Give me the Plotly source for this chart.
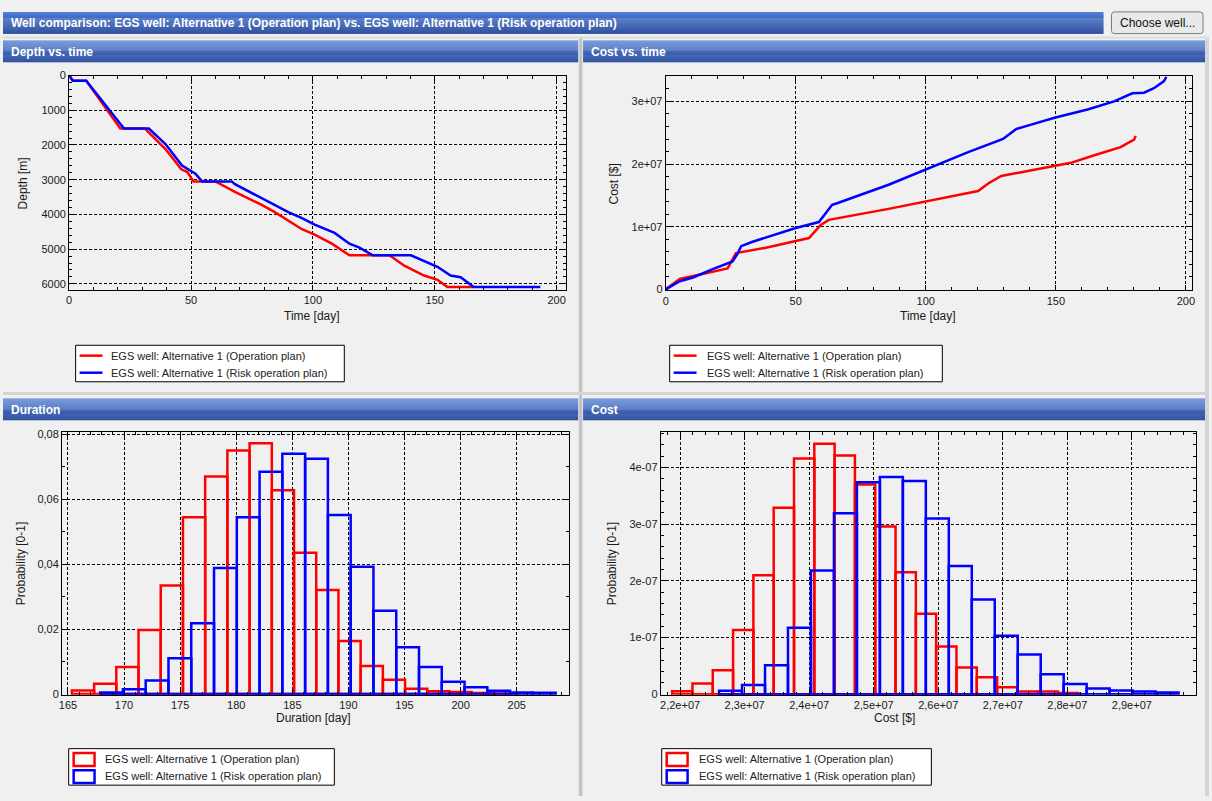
import plotly.graph_objects as go

W, H = 1212, 801

# ---------------- data ----------------
series_names = [
    "EGS well: Alternative 1 (Operation plan)",
    "EGS well: Alternative 1 (Risk operation plan)",
]

# Depth vs. time  (time in days, depth in metres)
depth_op_t = [0, 1.5, 7, 21, 31, 39.5, 46, 48.5, 51, 60, 68, 73.6, 79, 84.4, 90, 95.3,
              100.7, 107.6, 115, 124.6, 131.4, 137.5, 145.6, 151.1, 155.2, 166]
depth_op_m = [0, 150, 150, 1525, 1525, 2116, 2700, 2780, 3050, 3050, 3350, 3540, 3727,
              3935, 4180, 4420, 4580, 4835, 5176, 5176, 5176, 5477, 5761, 5885, 6093, 6093]
depth_risk_t = [0, 1.5, 7, 22.5, 32.7, 39.5, 46.3, 49.7, 51.8, 54.5, 66.7, 68, 77.6, 89.9,
                95.3, 100.7, 108.9, 115, 119.1, 124.6, 140.2, 145.6, 151.1, 156.5, 160.6,
                166, 193.3]
depth_risk_m = [0, 150, 150, 1525, 1525, 1974, 2590, 2733, 2827, 3050, 3050, 3130, 3490,
                3935, 4100, 4295, 4532, 4844, 4957, 5176, 5176, 5337, 5507, 5761, 5808,
                6093, 6093]

# Cost vs. time  (time in days, cost in $)
cost_op_t = [0, 5.4, 23.8, 27, 38.5, 50, 55.1, 59.6, 62.7, 85.7, 99.7, 108, 120.1, 124,
             129, 136.7, 149.5, 155.8, 164.8, 169.9, 174.9, 180.1, 180.7]
cost_op_usd = [0, 1.67e6, 3.35e6, 5.8e6, 6.66e6, 7.8e6, 8.2e6, 10.3e6, 11.1e6, 12.85e6,
               14.0e6, 14.8e6, 15.7e6, 16.9e6, 18.1e6, 18.7e6, 19.7e6, 20.2e6, 21.4e6,
               22.0e6, 22.7e6, 23.9e6, 24.5e6]
cost_risk_t = [0, 5.4, 10.5, 18.1, 25.7, 27.5, 29, 33.4, 50, 58.9, 64, 65.9, 85.7, 99.7,
               116.3, 129.7, 134.8, 140.5, 149.5, 162.2, 172.4, 179.4, 183.9, 187.7,
               191.5, 192.5]
cost_risk_usd = [0, 1.3e6, 1.9e6, 3.25e6, 4.45e6, 5.6e6, 6.9e6, 7.6e6, 9.8e6, 10.75e6,
                 13.5e6, 13.75e6, 16.7e6, 19.1e6, 21.9e6, 24.0e6, 25.6e6, 26.3e6, 27.4e6,
                 28.7e6, 30.0e6, 31.3e6, 31.4e6, 32.1e6, 33.2e6, 33.9e6]

# Duration histograms (first bin edge, bin width, probability per bin)
dur_op_start, dur_op_width = 165.35, 1.98
dur_op_prob = [0.0011, 0.0032, 0.0083, 0.0197, 0.0334, 0.0544, 0.0669, 0.0749, 0.0772,
               0.0627, 0.0435, 0.0320, 0.0163, 0.0086, 0.0044, 0.0016, 0.0009, 0.0006,
               0.0003, 0.0002]
dur_risk_start, dur_risk_width = 167.87, 2.03
dur_risk_prob = [0.0005, 0.0015, 0.0042, 0.0110, 0.0218, 0.0388, 0.0544, 0.0684, 0.0739,
                 0.0724, 0.0551, 0.0392, 0.0256, 0.0144, 0.0083, 0.0038, 0.0021, 0.0010,
                 0.0005, 0.0004]

# Cost histograms
cost_op_start, cost_op_width = 2.1877e7, 0.3147e6
cost_op_prob = [0.05e-7, 0.19e-7, 0.42e-7, 1.13e-7, 2.10e-7, 3.29e-7, 4.16e-7, 4.42e-7,
                4.21e-7, 3.70e-7, 2.96e-7, 2.15e-7, 1.42e-7, 0.84e-7, 0.47e-7, 0.30e-7,
                0.12e-7, 0.047e-7, 0.045e-7, 0.02e-7]
cost_risk_start, cost_risk_width = 2.2604e7, 0.356e6
cost_risk_prob = [0.06e-7, 0.16e-7, 0.51e-7, 1.17e-7, 2.18e-7, 3.19e-7, 3.74e-7, 3.83e-7,
                  3.76e-7, 3.10e-7, 2.26e-7, 1.67e-7, 1.03e-7, 0.70e-7, 0.35e-7, 0.18e-7,
                  0.10e-7, 0.064e-7, 0.047e-7, 0.03e-7]

# Tick values / labels
time_ticks = [0, 50, 100, 150, 200]
depth_ticks = [0, 1000, 2000, 3000, 4000, 5000, 6000]
cost_time_ticks = [0, 1e7, 2e7, 3e7]
cost_time_labels = ["0", "1e+07", "2e+07", "3e+07"]
dur_ticks = [165, 170, 175, 180, 185, 190, 195, 200, 205]
dur_prob_ticks = [0, 0.02, 0.04, 0.06, 0.08]
dur_prob_labels = ["0", "0,02", "0,04", "0,06", "0,08"]
cost_ticks = [2.2e7, 2.3e7, 2.4e7, 2.5e7, 2.6e7, 2.7e7, 2.8e7, 2.9e7]
cost_labels = ["2,2e+07", "2,3e+07", "2,4e+07", "2,5e+07", "2,6e+07", "2,7e+07",
               "2,8e+07", "2,9e+07"]
cost_prob_ticks = [0, 1e-7, 2e-7, 3e-7, 4e-7]
cost_prob_labels = ["0", "1e-07", "2e-07", "3e-07", "4e-07"]

main_title = ("Well comparison: EGS well: Alternative 1 (Operation plan) vs. "
              "EGS well: Alternative 1 (Risk operation plan)")
panel_titles = ["Depth vs. time", "Cost vs. time", "Duration", "Cost"]

# ---------------- styling helpers ----------------
RED, BLUE = "#ff0000", "#0000ff"
SERIES_COLORS = [RED, BLUE]
FONT = "Liberation Sans"
BG = "#f0f0f0"


def fx(x):
    return x / W


def fy(y):
    return 1 - y / H


def centers(start, width, n):
    return [start + width * (i + 0.5) for i in range(n)]


fig = go.Figure()

# line charts
for (t, v, col, nm, xa, ya) in [
    (depth_op_t, depth_op_m, RED, series_names[0], "x", "y"),
    (depth_risk_t, depth_risk_m, BLUE, series_names[1], "x", "y"),
    (cost_op_t, cost_op_usd, RED, series_names[0], "x2", "y2"),
    (cost_risk_t, cost_risk_usd, BLUE, series_names[1], "x2", "y2"),
]:
    fig.add_trace(go.Scatter(x=t, y=v, mode="lines", name=nm,
                             line=dict(color=col, width=2.5),
                             xaxis=xa, yaxis=ya, showlegend=False))

# histograms (outlined bars)
for (start, width, prob, col, nm, xa, ya) in [
    (dur_op_start, dur_op_width, dur_op_prob, RED, series_names[0], "x3", "y3"),
    (dur_risk_start, dur_risk_width, dur_risk_prob, BLUE, series_names[1], "x3", "y3"),
    (cost_op_start, cost_op_width, cost_op_prob, RED, series_names[0], "x4", "y4"),
    (cost_risk_start, cost_risk_width, cost_risk_prob, BLUE, series_names[1], "x4", "y4"),
]:
    fig.add_trace(go.Bar(x=centers(start, width, len(prob)), y=prob, width=width,
                         name=nm, xaxis=xa, yaxis=ya, showlegend=False,
                         marker=dict(color="rgba(0,0,0,0)",
                                     line=dict(color=col, width=2.5))))


def axis(domain, rng, anchor, minor_dtick, tickvals, ticktext=None):
    d = dict(
        domain=domain, range=rng, anchor=anchor,
        tickmode="array", tickvals=tickvals,
        showline=True, linecolor="black", linewidth=1, mirror="allticks",
        ticks="inside", ticklen=5, tickcolor="black", tickwidth=1,
        showgrid=True, gridcolor="black", gridwidth=1, griddash="3px,2px",
        zeroline=False, fixedrange=True,
        tickfont=dict(family=FONT, size=11, color="#1a1a1a"),
        minor=dict(ticks="inside", ticklen=3, tickcolor="black", dtick=minor_dtick,
                   tick0=0, showgrid=False),
    )
    if ticktext is not None:
        d["ticktext"] = ticktext
    return d


fig.update_layout(
    width=W, height=H, margin=dict(l=0, r=0, t=0, b=0),
    paper_bgcolor=BG, plot_bgcolor=BG, barmode="overlay", showlegend=False,
    font=dict(family=FONT, size=11, color="#1a1a1a"),
    xaxis=axis([fx(66.5), fx(565.7)], [0, 203.8], "y", 10, time_ticks),
    yaxis=axis([fy(287.7), fy(70.5)], [6170, 0], "x", 200, depth_ticks),
    xaxis2=axis([fx(666), fx(1195.3)], [0, 202.5], "y2", 10, time_ticks),
    yaxis2=axis([fy(288.3), fy(70.7)], [-1.5e5, 3.41e7], "x2", 2e6,
                cost_time_ticks, cost_time_labels),
    xaxis3=axis([fx(59.3), fx(568.7)], [164.47, 209.65], "y3", 1, dur_ticks),
    yaxis3=axis([fy(698.3), fy(431.7)], [-0.0002, 0.0807], "x3", 0.01,
                dur_prob_ticks, dur_prob_labels),
    xaxis4=axis([fx(661), fx(1199.3)], [2.17e7, 3.0e7], "y4", 2e5, cost_ticks, cost_labels),
    yaxis4=axis([fy(698.3), fy(431.7)], [-0.01e-7, 4.63e-7], "x4", 2e-8,
                cost_prob_ticks, cost_prob_labels),
)

shapes = []
annotations = []


def rect(x0, y0, x1, y1, fill, line=None, lw=0):
    shapes.append(dict(type="rect", xref="paper", yref="paper",
                       x0=fx(x0), x1=fx(x1), y0=fy(y1), y1=fy(y0),
                       fillcolor=fill, line=dict(color=line or fill, width=lw)))


def gradient_bar(x0, y0, x1, y1, top=(82, 128, 212), bottom=(6, 46, 144)):
    n = int(round(y1 - y0))
    for i in range(n):
        f = i / max(n - 1, 1)
        c = tuple(int(round(top[k] + (bottom[k] - top[k]) * f)) for k in range(3))
        col = "rgb(%d,%d,%d)" % c
        rect(x0, y0 + i, x1, y0 + i + 1.05, col)


def text(x, y, s, size=12, color="#1a1a1a", bold=False, xanchor="left", angle=0):
    annotations.append(dict(xref="paper", yref="paper", x=fx(x), y=fy(y),
                            text=("<b>%s</b>" % s) if bold else s, showarrow=False,
                            xanchor=xanchor, yanchor="middle", textangle=angle,
                            font=dict(family=FONT, size=size, color=color)))


def line_legend(x0, y0, x1, y1, text_x):
    rect(x0, y0, x1, y1, "white", "black", 1)
    for i, (nm, col) in enumerate(zip(series_names, SERIES_COLORS)):
        yy = y0 + 10.5 + 17.3 * i
        shapes.append(dict(type="line", xref="paper", yref="paper",
                           x0=fx(x0 + 4), x1=fx(x0 + 27), y0=fy(yy), y1=fy(yy),
                           line=dict(color=col, width=2.5)))
        text(text_x, yy, nm, size=11, color="#222222")


def box_legend(x0, y0, x1, y1, text_x):
    rect(x0, y0, x1, y1, "white", "black", 1)
    for i, (nm, col) in enumerate(zip(series_names, SERIES_COLORS)):
        yy = y0 + 10.5 + 17.3 * i
        shapes.append(dict(type="rect", xref="paper", yref="paper",
                           x0=fx(x0 + 5), x1=fx(x0 + 26), y0=fy(yy + 7), y1=fy(yy - 6),
                           fillcolor="white", line=dict(color=col, width=2.5)))
        text(text_x, yy, nm, size=11, color="#222222")


# panel separators
rect(578.5, 33, 582.5, H, "#d4d4d4")
rect(579.5, 33, 581.5, H, "#bdbdbd")
rect(0, 391.5, W, 394.5, "#d4d4d4")
rect(1208, 33, W, H, "#d4d4d4")
rect(0, 31, W, 33, "#dcdcdc")

# header bars
gradient_bar(0, 6, 1106, 28)
gradient_bar(0, 35, 578, 57)
gradient_bar(583, 35, 1208, 57)
gradient_bar(0, 398, 578, 420)
gradient_bar(583, 398, 1208, 420)

text(6, 17, main_title, bold=True, color="white")
text(6, 46.5, panel_titles[0], bold=True, color="white")
text(589, 46.5, panel_titles[1], bold=True, color="white")
text(6, 409.5, panel_titles[2], bold=True, color="white")
text(589, 409.5, panel_titles[3], bold=True, color="white")

# button
bx0, by0, bx1, by1, r = 1114, 6, 1206, 28, 3
path = ("M {a},{b} L {c},{b} Q {d},{b} {d},{e} L {d},{f} Q {d},{g} {c},{g} "
        "L {a},{g} Q {h},{g} {h},{f} L {h},{e} Q {h},{b} {a},{b} Z").format(
    a=fx(bx0 + r), b=fy(by0), c=fx(bx1 - r), d=fx(bx1), e=fy(by0 + r),
    f=fy(by1 - r), g=fy(by1), h=fx(bx0))
shapes.append(dict(type="path", xref="paper", yref="paper", path=path,
                   fillcolor="#e9e9e9", line=dict(color="#7a7a7a", width=1)))
text(1160, 17.5, "Choose well...", size=12, color="#111111", xanchor="center")

# axis titles
text(311, 314, "Time [day]", xanchor="center")
text(20, 180, "Depth [m]", xanchor="center", angle=-90)
text(930, 314, "Time [day]", xanchor="center")
text(614, 180, "Cost [$]", xanchor="center", angle=-90)
text(312, 722, "Duration [day]", xanchor="center")
text(18, 565, "Probability [0-1]", xanchor="center", angle=-90)
text(896, 722, "Cost [$]", xanchor="center")
text(612, 565, "Probability [0-1]", xanchor="center", angle=-90)

# legends
line_legend(73, 344, 343, 381, 107)
line_legend(670, 344, 944, 381, 705)
box_legend(66, 753, 333, 790, 100)
box_legend(662, 753, 933, 790, 697)

fig.update_layout(shapes=shapes, annotations=annotations)

fig.write_html("out.html")
